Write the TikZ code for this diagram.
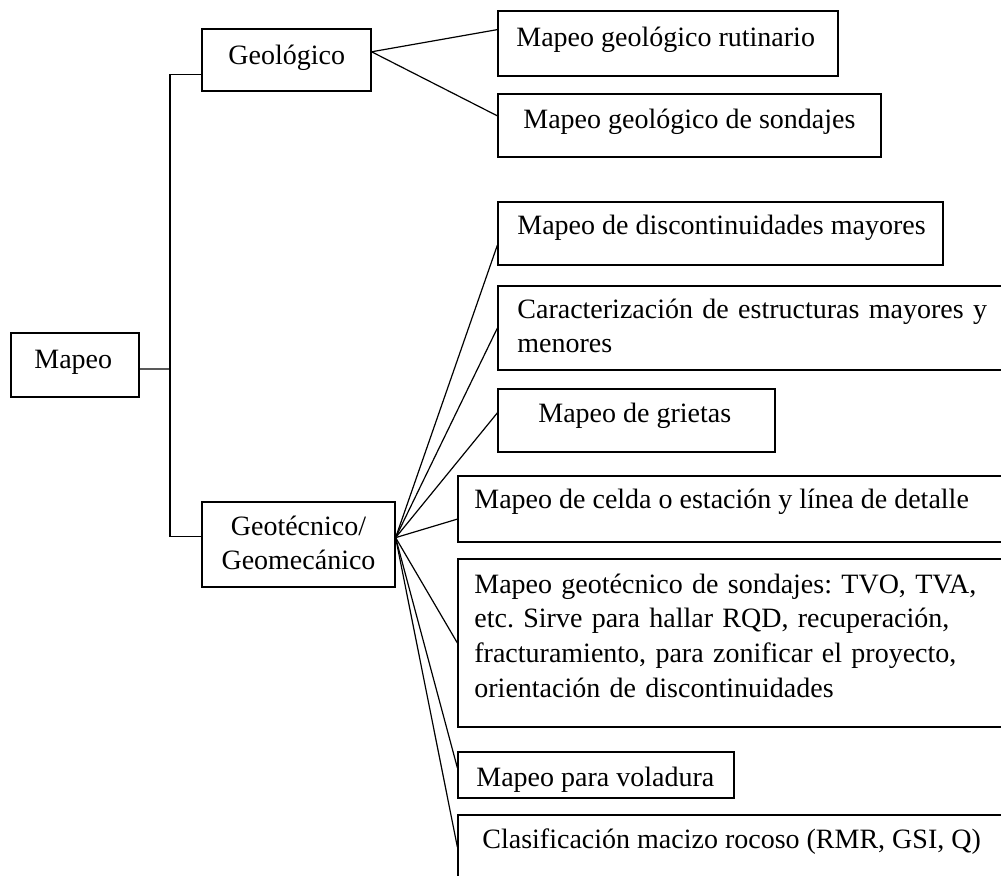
\documentclass[tikz,border=0pt]{standalone}
\usepackage{fontspec}
\setmainfont{Liberation Serif}
\frenchspacing
\usetikzlibrary{fit,calc}
\tikzset{
  box/.style={draw, line width=0.6pt, inner sep=0pt, rectangle},
  txt/.style={inner sep=0pt, font=\fontsize{14}{17.35}\selectfont, anchor=base west},
  multi/.style={txt, align=left, text width=300pt},
  link/.style={draw, line width=0.6pt},
}
\begin{document}
\begin{tikzpicture}[x=0.5pt,y=-0.5pt]
\clip (0,0) rectangle (1001,875);
\fill[white] (0,0) rectangle (1001,875);

% boxes
\node[box, fit={(11,333) (139,397)}]   (map)  {};
\node[box, fit={(202,29) (371,91)}]    (geo)  {};
\node[box, fit={(202,502) (395,587)}]  (gt)   {};
\node[box, fit={(498,11) (838,76)}]    (rut)  {};
\node[box, fit={(498,94) (881,157)}]   (sgeo) {};
\node[box, fit={(498,202) (943,265)}]  (disc) {};
\node[box, fit={(498,286) (1012,370)}] (car)  {};
\node[box, fit={(498,389) (775,452)}]  (gri)  {};
\node[box, fit={(458,476) (1012,542)}] (cel)  {};
\node[box, fit={(458,559) (1012,727)}] (sgt)  {};
\node[box, fit={(458,752) (734,798)}]  (vol)  {};
\node[box, fit={(458,815) (1012,890)}] (cla)  {};

% texts
\node[txt] (map-t) at (34,368) {Mapeo};
\node[txt] (geo-t) at (228,64) {Geológico};
\node[txt, align=center, text width=100pt, anchor=base] (gt-t) at (298.5,535) {Geotécnico/\\Geomecánico};
\node[txt] (rut-t) at (516,46) {Mapeo geológico rutinario};
\node[txt] (sgeo-t) at (523,128) {Mapeo geológico de sondajes};
\node[txt] (disc-t) at (517,234) {Mapeo de discontinuidades mayores};
\node[multi] (car-t) at (517,318) {Caracterización de estructuras mayores y\\menores};
\node[txt] (gri-t) at (538,422) {Mapeo de grietas};
\node[txt] (cel-t) at (474,508) {Mapeo de celda o estación y línea de detalle};
\node[multi] (sgt-t) at (474,593) {Mapeo geotécnico de sondajes: TVO, TVA,\\etc. Sirve para hallar RQD, recuperación,\\fracturamiento, para zonificar el proyecto,\\orientación de discontinuidades};
\node[txt] (vol-t) at (476,786) {Mapeo para voladura};
\node[txt] (cla-t) at (482,848) {Clasificación macizo rocoso (RMR, GSI, Q)};

% attachment points
\coordinate (mapR) at ($(map.north east)!0.56!(map.south east)$);
\coordinate (j)    at (170,369);
\coordinate (geoL) at ($(geo.north west)!0.73!(geo.south west)$);
\coordinate (gtL)  at ($(gt.north west)!0.41!(gt.south west)$);
\coordinate (geoR) at ($(geo.north east)!0.37!(geo.south east)$);
\coordinate (gtR)  at ($(gt.north east)!0.42!(gt.south east)$);

% main branches
\draw[link] (mapR) -- (j);
\draw[link] (geoL) -| (j) |- (gtL);

% geological branch
\draw[link] (geoR) -- ($(rut.north west)!0.29!(rut.south west)$);
\draw[link] (geoR) -- ($(sgeo.north west)!0.35!(sgeo.south west)$);

% geotechnical branch
\draw[link] (gtR) -- ($(disc.north west)!0.68!(disc.south west)$);
\draw[link] (gtR) -- (car.west);
\draw[link] (gtR) -- ($(gri.north west)!0.38!(gri.south west)$);
\draw[link] (gtR) -- ($(cel.north west)!0.65!(cel.south west)$);
\draw[link] (gtR) -- (sgt.west);
\draw[link] (gtR) -- ($(vol.north west)!0.35!(vol.south west)$);
\draw[link] (gtR) -- ($(cla.north west)!0.43!(cla.south west)$);
\end{tikzpicture}
\end{document}
